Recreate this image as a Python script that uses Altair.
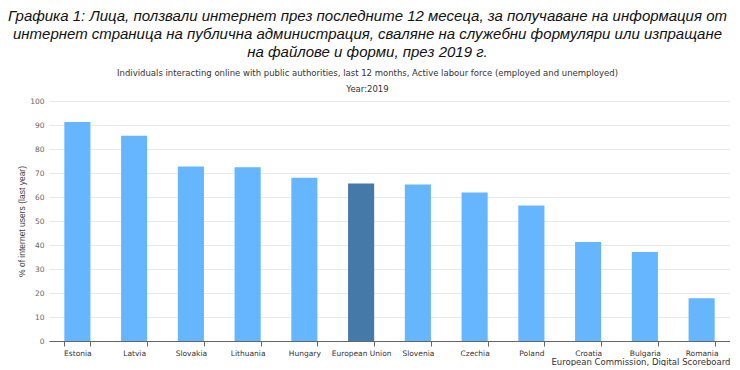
import altair as alt
import pandas as pd

countries = ["Estonia", "Latvia", "Slovakia", "Lithuania", "Hungary", "European Union",
             "Slovenia", "Czechia", "Poland", "Croatia", "Bulgaria", "Romania"]
values = [91.3, 85.5, 72.7, 72.4, 68.0, 65.6, 65.2, 61.9, 56.5, 41.2, 37.1, 17.8]
groups = ["country" if c != "European Union" else "eu" for c in countries]

title_lines = [
    "Графика 1: Лица, ползвали интернет през последните 12 месеца, за получаване на информация от",
    "интернет страница на публична администрация, сваляне на служебни формуляри или изпращане",
    "на файлове и форми, през 2019 г.",
]
subtitle_lines = [
    "Individuals interacting online with public authorities, last 12 months, Active labour force (employed and unemployed)",
    "Year:2019",
]
y_title = "% of internet users (last year)"
credit = "European Commission, Digital Scoreboard"

df = pd.DataFrame({"country": countries, "value": values, "group": groups})

chart = alt.Chart(df).mark_bar().encode(
    x=alt.X("country:N", sort=None,
            scale=alt.Scale(paddingInner=0.54, paddingOuter=0.27),
            axis=alt.Axis(title=credit, labelAngle=0, tickBand="extent",
                          labelFont="DejaVu Sans", labelFontSize=7.5, labelColor="#333333",
                          labelPadding=3, tickSize=5, tickColor="#666666",
                          domainColor="#666666", titleFont="DejaVu Sans",
                          titleFontSize=8.5, titleFontWeight="normal", titleColor="#333333",
                          titleAnchor="end", titlePadding=1)),
    y=alt.Y("value:Q", scale=alt.Scale(domain=[0, 100], nice=False),
            axis=alt.Axis(title=y_title, values=list(range(0, 101, 10)),
                          grid=True, gridColor="#e8e8e8", domain=False, ticks=False,
                          labelFont="DejaVu Sans", labelFontSize=7.5, labelColor="#666666",
                          labelPadding=5, titleFont="Liberation Sans", titleFontSize=8.5,
                          titleFontWeight="normal", titleColor="#444444", titlePadding=3)),
    color=alt.Color("group:N", scale=alt.Scale(domain=["country", "eu"],
                                               range=["#66b6ff", "#4479a8"]), legend=None),
).properties(
    width=681,
    height=240,
    padding={"left": 0, "top": 0, "right": 0, "bottom": 0},
    title=alt.TitleParams(
        text=title_lines, subtitle=subtitle_lines,
        font="Liberation Sans", fontStyle="italic", fontWeight="normal",
        fontSize=15, lineHeight=18, color="#111111",
        subtitleFont="DejaVu Sans", subtitleFontSize=8.5, subtitleColor="#333333",
        subtitleLineHeight=16, subtitlePadding=9,
        anchor="middle", frame="group", dx=-22, offset=4,
    ),
).configure_view(stroke=None)

chart.save("out.html", embed_options={"renderer": "svg", "actions": False})
